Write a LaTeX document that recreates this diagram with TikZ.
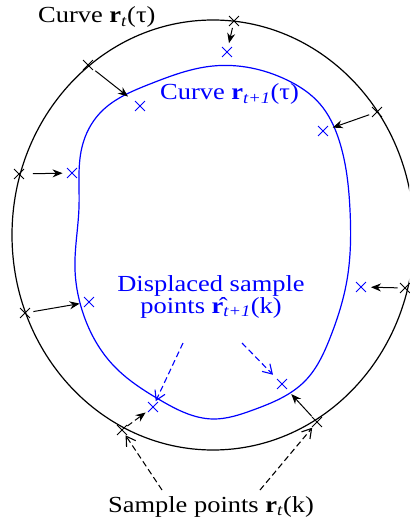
\documentclass[tikz,border=0pt]{standalone}
\usepackage{fontspec}
\setmainfont{Liberation Serif}[FakeStretch=1.15]
\usetikzlibrary{arrows.meta,shapes.misc,hobby}
\begin{document}
\begin{tikzpicture}[x=1pt,y=-1pt,
  mk/.style={cross out,draw,inner sep=0pt,minimum size=9pt,line width=0.9pt},
  bmk/.style={mk,draw=black},
  cmk/.style={mk,draw=blue},
  arr/.style={line width=1pt,-{Stealth[length=10pt,width=8pt]}},
  darr/.style={line width=1.1pt,dash pattern=on 6pt off 3.5pt,-{Straight Barb[length=9pt,width=11pt]}},
  lbl/.style={font=\fontsize{23}{20}\selectfont,inner sep=0pt}]
\useasboundingbox (0,0) rectangle (409,518);
\begin{scope}
  \clip (0,0) rectangle (409,518);
  \draw[line width=1.2pt] (213,235) ellipse [x radius=201, y radius=215];
\end{scope}
% blue curve
\draw[blue,line width=1.2pt] plot[closed hobby] coordinates {
  (150,84) (213,66) (287,80) (320,104) (339,140)
  (350,210) (347,280) (330,338) (305,381)
  (253,410) (213,419) (160,400) (113,365)
  (82,310) (75,270) (79,207) (82,147) (100,113)};
% sample points on r_t
\node[bmk] (b1) at (234,21) {};
\node[bmk] (b2) at (88,65) {};
\node[bmk] (b3) at (377,112) {};
\node[bmk] (b4) at (19,174) {};
\node[bmk] (b5) at (25,313) {};
\node[bmk] (b6) at (405,288) {};
\node[bmk] (b7) at (122,430) {};
\node[bmk] (b8) at (317,422) {};
% displaced points
\node[cmk] (c1) at (227,52) {};
\node[cmk] (c2) at (140,106) {};
\node[cmk] (c3) at (323,131) {};
\node[cmk] (c4) at (72,173) {};
\node[cmk] (c5) at (89,302) {};
\node[cmk] (c6) at (361,287) {};
\node[cmk] (c7) at (153,407) {};
\node[cmk] (c8) at (282,384) {};
% displacement arrows
\draw[arr,shorten <=2pt,shorten >=4pt] (b1) -- (c1);
\draw[arr,shorten <=3pt,shorten >=9pt] (b2) -- (c2);
\draw[arr,shorten <=3pt,shorten >=5pt] (b3) -- (c3);
\draw[arr,shorten <=9pt,shorten >=4.5pt] (b4) -- (c4);
\draw[arr,shorten <=3.5pt,shorten >=4.5pt] (b5) -- (c5);
\draw[arr,shorten <=2.5pt,shorten >=5pt] (b6) -- (c6);
\draw[arr,dash pattern=on 6pt off 3.5pt,shorten <=0.5pt,shorten >=3pt] (b7) -- (c7);
\draw[arr,shorten <=1pt,shorten >=7pt] (b8) -- (c8);
% labels
\node[lbl,anchor=base west] (t1) at (38,23) {Curve \textbf{r}\textsubscript{\textit{t}}(τ)};
\node[lbl,anchor=base west,text=blue] (t2) at (160,100) {Curve \textbf{r}\textsubscript{\textit{t+1}}(τ)};
\node[lbl,text=blue,align=center,anchor=base] (t3) at (211,313) {Displaced sample\\points \^{\textbf{r}}\textsubscript{\textit{t+1}}(k)};
\node[lbl,anchor=base] (t4) at (211,512) {Sample points \textbf{r}\textsubscript{\textit{t}}(k)};
% label pointers
\coordinate (d1) at (183,343);
\coordinate (d2) at (242,343);
\coordinate (e1) at (162,490);
\coordinate (e2) at (260,490);
\draw[darr,blue,shorten >=1pt] (d1) -- (c7);
\draw[darr,blue,shorten >=6pt] (d2) -- (c8);
\draw[darr,shorten >=0.5pt] (e1) -- (b7);
\draw[darr,shorten >=1pt] (e2) -- (b8);
\end{tikzpicture}
\end{document}
